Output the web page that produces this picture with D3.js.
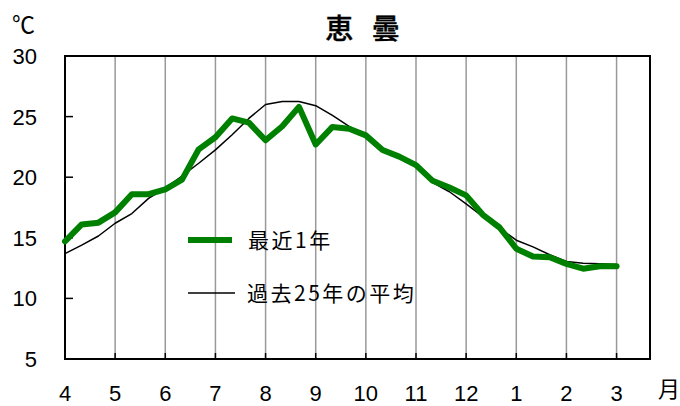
<!DOCTYPE html>
<html><head><meta charset="utf-8">
<script src="https://cdn.jsdelivr.net/npm/d3@7"></script>
<style>
html,body{margin:0;padding:0;background:#fff;}
svg{display:block;}
</style></head>
<body>
<svg id="c" width="680" height="406"></svg>
<script>
const title = "恵 曇";
const monthLabels = ["4","5","6","7","8","9","10","11","12","1","2","3"];
const yTicks = [5,10,15,20,25,30];
const seriesNames = ["最近1年","過去25年の平均"];
// 旬 (10-day period) values, April first 旬 through March first 旬
const recent = [14.7,16.1,16.25,17.1,18.6,18.6,19.0,19.8,22.3,23.3,24.85,24.5,23.05,24.2,25.8,22.7,24.15,24.0,23.45,22.25,21.7,21.0,19.7,19.15,18.5,16.9,15.85,14.1,13.45,13.4,12.85,12.45,12.65,12.65];
const avg25 = [13.7,14.4,15.15,16.2,17.0,18.25,19.1,20.1,21.15,22.25,23.5,24.85,26.0,26.25,26.25,25.9,25.1,24.2,23.45,22.3,21.6,20.85,19.55,18.8,17.8,16.75,15.8,14.8,14.25,13.6,13.05,12.9,12.85,12.8];

const svg = d3.select("#c");
const L=65, R=650, T=56, B=359;
const x = d3.scaleLinear().domain([0,35]).range([L,R]);
const y = d3.scaleLinear().domain([5,30]).range([B,T]);
const num = "'Liberation Sans', Arial, sans-serif";
const jp = "'Noto Sans CJK JP', sans-serif";

// vertical month gridlines
const gridIdx = d3.range(3,34,3);
svg.append("g").selectAll("line").data(gridIdx).join("line")
  .attr("x1",d=>x(d)).attr("x2",d=>x(d)).attr("y1",T).attr("y2",B)
  .attr("stroke","#999").attr("stroke-width",1.5);
// bottom ticks (inward)
svg.append("g").selectAll("line").data(gridIdx).join("line")
  .attr("x1",d=>x(d)).attr("x2",d=>x(d)).attr("y1",B-6).attr("y2",B)
  .attr("stroke","#000").attr("stroke-width",1.5);
// y ticks inward
svg.append("g").selectAll("line").data(yTicks).join("line")
  .attr("x1",L).attr("x2",L+8).attr("y1",d=>y(d)).attr("y2",d=>y(d))
  .attr("stroke","#000").attr("stroke-width",1.5);

// frame
svg.append("rect").attr("x",L).attr("y",T).attr("width",R-L).attr("height",B-T)
  .attr("fill","none").attr("stroke","#000").attr("stroke-width",2);

// lines
const line = d3.line().x((d,i)=>x(i)).y(d=>y(d));
svg.append("path").datum(avg25).attr("d",line).attr("fill","none")
  .attr("stroke","#000").attr("stroke-width",1.5).attr("stroke-linejoin","round");
svg.append("path").datum(recent).attr("d",line).attr("fill","none")
  .attr("stroke","#008000").attr("stroke-width",6).attr("stroke-linejoin","round").attr("stroke-linecap","round");

// y labels
svg.append("g").selectAll("text").data(yTicks).join("text")
  .attr("x",37).attr("y",d=>y(d)).attr("dy","0.36em").attr("text-anchor","end")
  .attr("font-family",num).attr("font-size",22).text(d=>d);
// x labels
svg.append("g").selectAll("text").data(monthLabels).join("text")
  .attr("x",(d,i)=>x(i*3)).attr("y",401).attr("text-anchor","middle")
  .attr("font-family",num).attr("font-size",22).text(d=>d);

// unit labels
svg.append("text").attr("x",12).attr("y",33).attr("font-family",jp).attr("font-size",23).text("℃");
svg.append("text").attr("x",658).attr("y",397).attr("font-family",jp).attr("font-size",22).text("月");

// title
svg.append("text").attr("x",362.5).attr("y",39).attr("text-anchor","middle")
  .attr("font-family",jp).attr("font-size",28).attr("font-weight",500)
  .attr("stroke","#000").attr("stroke-width",0.4)
  .attr("word-spacing",12).text(title);

// legend
const lg = svg.append("g");
lg.append("line").attr("x1",188).attr("x2",232).attr("y1",240).attr("y2",240)
  .attr("stroke","#008000").attr("stroke-width",6);
lg.append("text").attr("x",248).attr("y",248).attr("font-family",jp).attr("font-size",21)
  .attr("letter-spacing",2.5).text(seriesNames[0]);
lg.append("line").attr("x1",188).attr("x2",235).attr("y1",293).attr("y2",293)
  .attr("stroke","#000").attr("stroke-width",1.5);
lg.append("text").attr("x",247).attr("y",301).attr("font-family",jp).attr("font-size",21)
  .attr("letter-spacing",2.5).text(seriesNames[1]);
</script>
</body></html>
